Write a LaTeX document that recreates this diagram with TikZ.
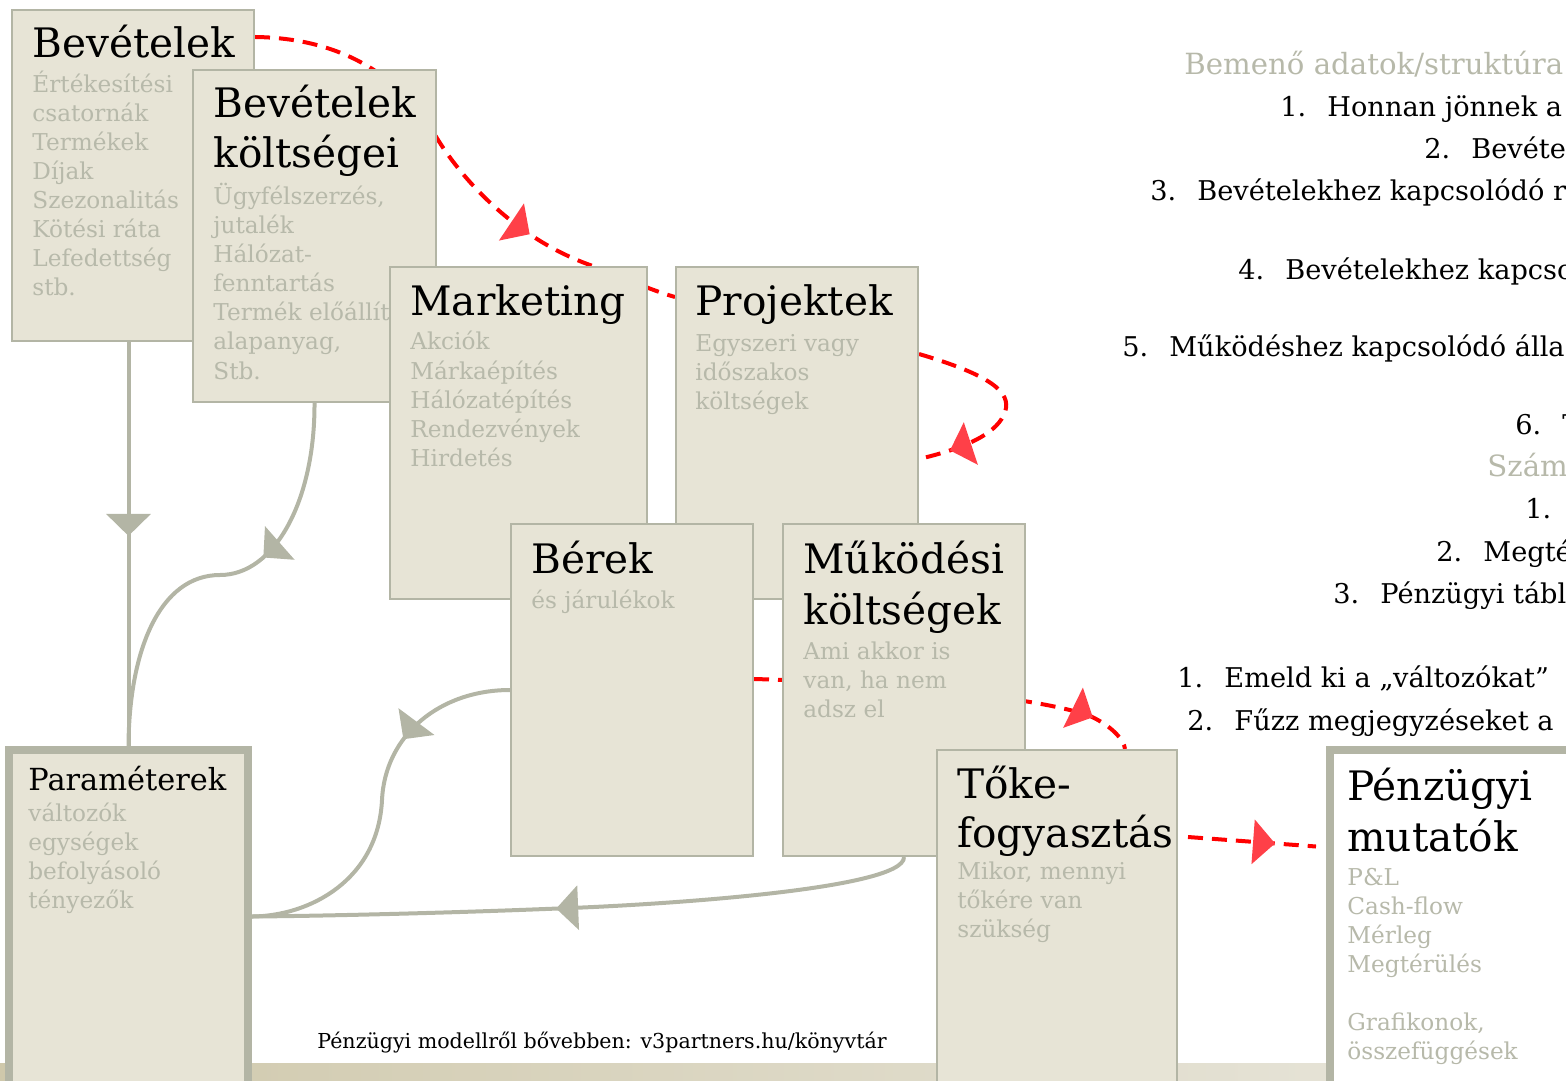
\documentclass[tikz,border=0pt]{standalone}
\usepackage{fontspec}
\setmainfont{DejaVu Serif}
\usetikzlibrary{fit,arrows.meta,decorations.markings,backgrounds}
\definecolor{boxfill}{HTML}{E7E4D6}
\definecolor{boxline}{HTML}{B3B5A5}
\definecolor{subgray}{HTML}{B7B9AA}
\definecolor{redtip}{HTML}{FF4048}
\definecolor{stripL}{HTML}{CFC8AB}
\definecolor{stripR}{HTML}{E9E7DD}
\begin{document}
\begin{tikzpicture}[x=0.5pt,y=-0.5pt,
  box/.style={draw=boxline,fill=boxfill,line width=1pt,inner sep=0pt},
  ttl/.style={anchor=base west,inner sep=0pt,font=\fontsize{20.3}{25}\selectfont},
  sub/.style={anchor=base west,inner sep=0pt,text=subgray,font=\fontsize{11.6}{14.5}\selectfont},
  rt/.style={anchor=base west,inner sep=0pt,font=\fontsize{13.6}{16}\selectfont},
  flow/.style={draw=boxline,line width=2pt,postaction={decorate},
    decoration={markings,mark=at position #1 with {\arrow{Triangle[length=11pt,width=22pt]}}}},
  link/.style={draw=red,line width=2pt,dash pattern=on 7.5pt off 4.5pt,postaction={decorate},
    decoration={markings,mark=at position #1 with {\arrow{Triangle[length=11pt,width=22pt,color=redtip]}}}}]
\useasboundingbox (0,0) rectangle (1566,1080);
\clip (0,0) rectangle (1566,1080);

\node[box,fit={(12,10) (254,341)}] (bev) {};
\node[ttl] (bev-t) at (32,58) {Bevételek};
\foreach \t [count=\i from 0] in {Értékesítési,csatornák,Termékek,Díjak,Szezonalitás,Kötési ráta,Lefedettség,stb.}
  \node[sub] (bev-\i) at (32,{93+29*\i}) {\t};

\node[box,fit={(193,70) (436,402)}] (bevk) {};
\foreach \t [count=\i from 0] in {Bevételek,költségei}
  \node[ttl] (bevk-t\i) at (213,{118+50*\i}) {\t};
\foreach \t [count=\i from 0] in {{Ügyfélszerzés,},jutalék,Hálózat-,fenntartás,Termék előállítás,{alapanyag,},Stb.}
  \node[sub] (bevk-\i) at (213,{205+29*\i}) {\t};

\node[box,fit={(390,267) (647,599)}] (mkt) {};
\node[ttl] (mkt-t) at (410,315) {Marketing};
\foreach \t [count=\i from 0] in {Akciók,Márkaépítés,Hálózatépítés,Rendezvények,Hirdetés}
  \node[sub] (mkt-\i) at (410,{350+29*\i}) {\t};

\node[box,fit={(676,267) (918,599)}] (prj) {};
\node[ttl] (prj-t) at (695,315) {Projektek};
\foreach \t [count=\i from 0] in {Egyszeri vagy,időszakos,költségek}
  \node[sub] (prj-\i) at (695,{351+29*\i}) {\t};

\node[box,fit={(511,524) (753,856)}] (ber) {};
\node[ttl] (ber-t) at (531,573) {Bérek};
\node[sub] (ber-0) at (531,608) {és járulékok};

\node[box,fit={(783,524) (1025,856)}] (mik) {};
\foreach \t [count=\i from 0] in {Működési,költségek}
  \node[ttl] (mik-t\i) at (803,{573+51*\i}) {\t};
\foreach \t [count=\i from 0] in {Ami akkor is,{van, ha nem},adsz el}
  \node[sub] (mik-\i) at (803,{659+29*\i}) {\t};

\node[box,fit={(937,750) (1177,1095)}] (toke) {};
\foreach \t [count=\i from 0] in {Tőke-,fogyasztás}
  \node[ttl] (toke-t\i) at (957,{798+49*\i}) {\t};
\foreach \t [count=\i from 0] in {{Mikor, mennyi},tőkére van,szükség}
  \node[sub] (toke-\i) at (957,{879+29*\i}) {\t};

\node[box,line width=4pt,fit={(9,750) (248,1095)}] (par) {};
\node[ttl,font=\fontsize{15.2}{18}\selectfont] (par-t) at (28,790) {Paraméterek};
\foreach \t [count=\i from 0] in {változók,egységek,befolyásoló,tényezők}
  \node[sub] (par-\i) at (28,{821+29*\i}) {\t};

\node[box,fill=white,line width=4pt,fit={(1330,750) (1600,1095)}] (pm) {};
\foreach \t [count=\i from 0] in {Pénzügyi,mutatók}
  \node[ttl] (pm-t\i) at (1347,{800+51*\i}) {\t};
\foreach \t/\d [count=\i from 0] in {P\&L/0,Cash-flow/1,Mérleg/2,Megtérülés/3,{Grafikonok,}/5,összefüggések/6}
  \node[sub] (pm-\i) at (1347,{885+29*\d}) {\t};

\node[rt,text=subgray,font=\fontsize{14.6}{17}\selectfont] (hd1) at (1184,75) {Bemenő adatok/struktúra};
\node[rt,text=subgray,font=\fontsize{14.6}{17}\selectfont] (hd2) at (1487,476) {Szám};
\foreach \x/\y/\n/\t [count=\k] in {1280/117/1./Honnan jönnek a,1424/159/2./Bevéte,
  1150/201/3./Bevételekhez kapcsolódó r,1238/279/4./Bevételekhez kapcso,
  1122/356/5./Működéshez kapcsolódó álla,1515/434/6./T,1525/518/1./{},
  1436/561/2./Megté,1333/603/3./Pénzügyi tábl,
  1177/687/1./Emeld ki a „változókat”,1187/730/2./Fűzz megjegyzéseket a}
  \node[rt] (q\k) at (\x,\y) {\makebox[23.5pt][l]{\n}\t};

\node[font=\fontsize{10.3}{12}\selectfont] (foot) at (602,1043) {Pénzügyi modellről bővebben: v3partners.hu/könyvtár};

\begin{scope}[on background layer]
\fill[left color=stripL,right color=stripR] (0,1063) rectangle (1566,1080);
\draw[flow=0.48] (par.north |- bev.south) -- (par.north);
\draw[flow=0.39] (bevk.south) .. controls (315,500) and (275,575) .. (220,575)
  .. controls (160,575) and (129,650) .. (par.north);
\draw[flow=0.32] (ber.west) .. controls (440,690) and (385,735) .. (382,800)
  .. controls (378,880) and (310,916) .. ([yshift=3pt]par.east);
\draw[flow=0.54] (mik.south) .. controls (905,890) and (650,905) .. (570,908)
  .. controls (450,913) and (320,916) .. ([yshift=3pt]par.east);
\draw[link=0.69] ([yshift=-14pt]bev.north east) .. controls (340,38) and (400,75) .. (435,135)
  .. controls (465,185) and (520,240) .. (590,265) .. controls (625,278) and (650,290) .. ([yshift=-15.5pt]prj.north west);
\draw[link=0.85] ([yshift=-44pt]prj.north east) .. controls (990,375) and (1012,392) .. (1005,412)
  .. controls (998,432) and (970,447) .. ([yshift=-96.5pt]prj.north east);
\draw[link=0.88] ([yshift=-78pt]ber.north east) .. controls (900,683) and (1040,698) .. (1090,716)
  .. controls (1112,726) and (1124,740) .. ([xshift=34pt]toke.north);
\draw[link=0.68] ([xshift=5pt,yshift=-44pt]toke.north east) -- ([xshift=-5pt,yshift=38pt]pm.west);
\end{scope}
\end{tikzpicture}
\end{document}
